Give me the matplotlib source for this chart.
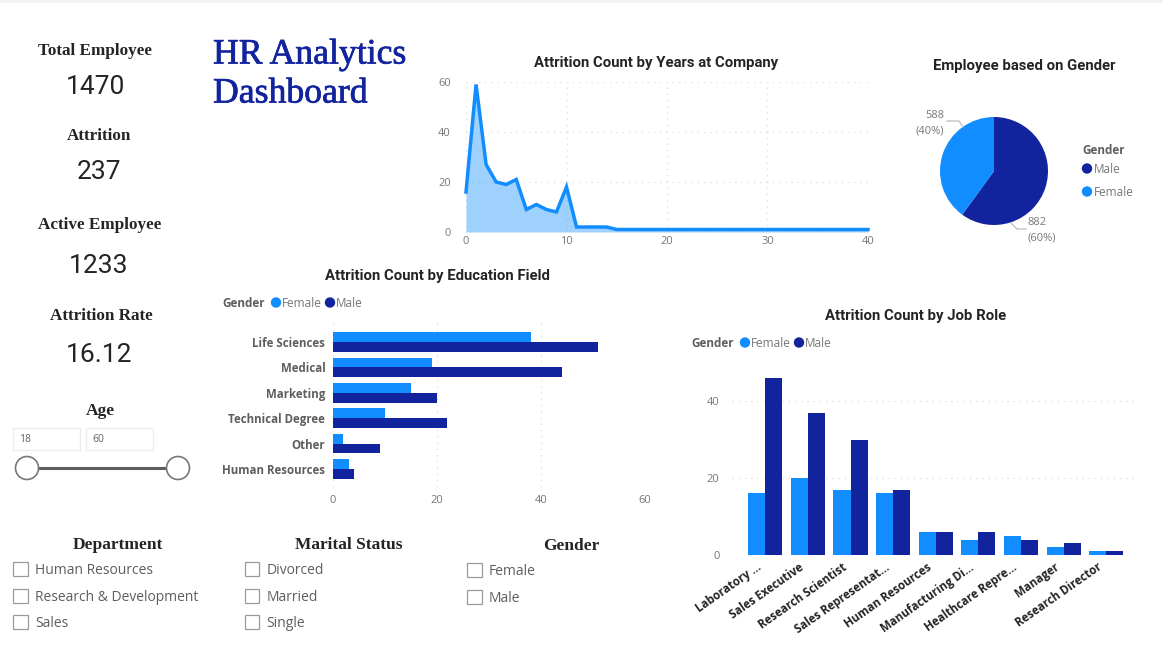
import matplotlib
matplotlib.use('Agg')
import numpy as np
import matplotlib.pyplot as plt
import matplotlib.patheffects as pe
from matplotlib.patches import Circle, Rectangle
from matplotlib.transforms import ScaledTranslation

W, H = 1163, 649
LIGHT = '#118DFF'
DARK = '#12239E'
GREY = '#605E5C'
TICK = '#777777'
TITLE = '#252423'
SERIF = 'Liberation Serif'

years = [0, 1, 2, 3, 4, 5, 6, 7, 8, 9, 10, 11, 12, 13, 14, 15, 16, 17, 18, 19, 20,
         21, 22, 23, 24, 25, 26, 27, 28, 29, 30, 31, 32, 33, 34, 35, 36, 37, 38, 39, 40]
attrition_years = [16, 59, 27, 20, 19, 21, 9, 11, 9, 8, 18, 2, 2, 2, 2, 1, 1, 1, 1, 1, 1,
                   1, 1, 1, 1, 1, 1, 1, 1, 1, 1, 1, 1, 1, 1, 1, 1, 1, 1, 1, 1]

gender_labels = ['Male', 'Female']
gender_counts = [882, 588]

edu_fields = ['Life Sciences', 'Medical', 'Marketing', 'Technical Degree', 'Other', 'Human Resources']
edu_female = [38, 19, 15, 10, 2, 3]
edu_male = [51, 44, 20, 22, 9, 4]

job_roles = ['Laboratory ...', 'Sales Executive', 'Research Scientist', 'Sales Representat...',
             'Human Resources', 'Manufacturing Di...', 'Healthcare Repre...', 'Manager', 'Research Director']
job_female = [16, 20, 17, 16, 6, 4, 5, 2, 1]
job_male = [46, 37, 30, 17, 6, 6, 4, 3, 1]

kpi_names = ['Total Employee', 'Attrition', 'Active Employee', 'Attrition Rate']
kpi_values = ['1470', '237', '1233', '16.12']

departments = ['Human Resources', 'Research & Development', 'Sales']
marital = ['Divorced', 'Married', 'Single']
genders = ['Female', 'Male']

plt.rcParams['font.family'] = ['Open Sans', 'DejaVu Sans']
fig = plt.figure(figsize=(W / 100, H / 100), dpi=100, facecolor='white')


def px_axes(left, top, right, bottom):
    return fig.add_axes([left / W, 1 - bottom / H, (right - left) / W, (bottom - top) / H])


def clean(ax):
    for s in ax.spines.values():
        s.set_visible(False)
    ax.set_facecolor('none')
    ax.tick_params(length=0, labelcolor=TICK, labelsize=8)
    ax.set_axisbelow(True)


# overlay in pixel coordinates for the text and the slicers
ov = px_axes(0, 0, W, H)
ov.set_xlim(0, W)
ov.set_ylim(H, 0)
ov.axis('off')
ov.set_zorder(5)
ov.add_patch(Rectangle((0, 0), W, 2.5, fc='#F3F3F3', ec='none'))

# area chart
ax = px_axes(466, 82, 868, 232)
clean(ax)
ax.fill_between(years, attrition_years, color=LIGHT, alpha=0.4, lw=0)
ax.plot(years, attrition_years, color=LIGHT, lw=2.5, solid_joinstyle='miter', clip_on=False)
ax.set_xlim(0, 40)
ax.set_ylim(0, 60)
ax.set_xticks([0, 10, 20, 30, 40])
ax.set_yticks([0, 20, 40, 60])
ax.grid(color='#DDDDDD', ls=(0, (1, 4)), lw=0.9)
ax.tick_params(axis='x', pad=3)
ax.tick_params(axis='y', pad=11)

# pie
ax = px_axes(940, 117, 1048, 225)
ax.pie(gender_counts, colors=[DARK, LIGHT], startangle=90, counterclock=False, radius=1)
ax.set_xlim(-1, 1)
ax.set_ylim(-1, 1)
ov.plot([947, 959, 963], [121, 121, 127], color='#BDBDBD', lw=0.9)
ov.plot([1011, 1017, 1026], [223, 229, 229], color='#BDBDBD', lw=0.9)
ov.text(944, 116, f'{gender_counts[1]}', ha='right', va='center', fontsize=8, color=TICK)
ov.text(944, 131, f'({gender_counts[1] / sum(gender_counts):.0%})', ha='right', va='center', fontsize=8, color=TICK)
ov.text(1028, 222.5, f'{gender_counts[0]}', ha='left', va='center', fontsize=8, color=TICK)
ov.text(1028, 237.5, f'({gender_counts[0] / sum(gender_counts):.0%})', ha='left', va='center', fontsize=8, color=TICK)
ov.text(1082, 150, 'Gender', ha='left', va='center', fontsize=8.5, color=GREY, fontweight='bold')
ov.add_patch(Circle((1087, 168.5), 4.5, color=DARK))
ov.text(1094, 169.5, gender_labels[0], ha='left', va='center', fontsize=8.5, color=TICK)
ov.add_patch(Circle((1087, 191.5), 4.5, color=LIGHT))
ov.text(1094, 192.5, gender_labels[1], ha='left', va='center', fontsize=8.5, color=TICK)

# education bars
ax = px_axes(333, 323, 645, 487)
clean(ax)
pos = np.arange(len(edu_fields))
ax.barh(pos - 0.195, edu_female, 0.39, color=LIGHT)
ax.barh(pos + 0.195, edu_male, 0.39, color=DARK)
ax.set_xlim(0, 60)
ax.set_ylim(5.71, -0.75)
ax.set_xticks([0, 20, 40, 60])
ax.set_yticks(pos)
ax.set_yticklabels(edu_fields, fontsize=8.3, fontweight='bold', color=GREY)
ax.grid(axis='x', color='#DDDDDD', ls=(0, (1, 4)), lw=0.9)
ax.tick_params(axis='y', pad=5.5)
ax.tick_params(axis='x', pad=6)

# job role bars
ax = px_axes(732, 378, 1137, 555)
clean(ax)
pos = np.arange(len(job_roles))
ax.bar(pos - 0.2, job_female, 0.4, color=LIGHT)
ax.bar(pos + 0.2, job_male, 0.4, color=DARK)
ax.set_xlim(-0.78, 8.72)
ax.set_ylim(0, 46)
ax.set_yticks([0, 20, 40])
ax.set_xticks(pos)
ax.set_xticklabels(job_roles, rotation=35, ha='right', rotation_mode='anchor',
                   fontsize=8.3, fontweight='bold', color=TITLE)
ax.grid(axis='y', color='#DDDDDD', ls=(0, (1, 4)), lw=0.9)
ax.tick_params(axis='y', pad=9)
ax.tick_params(axis='x', pad=4)
# tick_params resets the label transform, so the shift comes after it
shift = ScaledTranslation(-9 / 100, 0, fig.dpi_scale_trans)
for lab in ax.get_xticklabels():
    lab.set_transform(lab.get_transform() + shift)

# chart titles
title_kw = dict(ha='center', va='center', fontsize=10.7, fontfamily='Roboto', fontweight='bold', color=TITLE)
ov.text(656, 62.5, 'Attrition Count by Years at Company', **title_kw)
ov.text(1024.5, 66, 'Employee based on Gender', **title_kw)
ov.text(437, 276, 'Attrition Count by Education Field', **title_kw)
ov.text(916, 316, 'Attrition Count by Job Role', **title_kw)


def gender_legend(x, y):
    ov.text(x, y, 'Gender', ha='left', va='center', fontsize=8.5, color=GREY, fontweight='bold')
    ov.add_patch(Circle((x + 54, y - 1), 4.5, color=LIGHT))
    ov.text(x + 60, y, 'Female', ha='left', va='center', fontsize=8.5, color=TICK)
    ov.add_patch(Circle((x + 108, y - 1), 4.5, color=DARK))
    ov.text(x + 114, y, 'Male', ha='left', va='center', fontsize=8.5, color=TICK)


gender_legend(222, 303.5)
gender_legend(691, 343.5)

# heading
heavy = [pe.withStroke(linewidth=0.5, foreground=DARK)]
ov.text(213, 55, 'HR Analytics', ha='left', va='center', fontsize=25.7, fontfamily=SERIF,
        color=DARK, path_effects=heavy)
ov.text(213, 94, 'Dashboard', ha='left', va='center', fontsize=25.7, fontfamily=SERIF,
        color=DARK, path_effects=heavy)

# cards
name_x = [95, 99.5, 100, 101]
value_x = [95, 98.5, 99, 99.5]
for name, val, nx, vx, y1, y2 in zip(kpi_names, kpi_values, name_x, value_x,
                                     [51, 136, 225, 316], [87, 172, 266, 355]):
    ov.text(nx, y1, name, ha='center', va='center', fontsize=12.3, fontfamily=SERIF,
            fontweight='bold', color=TITLE)
    ov.text(vx, y2, val, ha='center', va='center', fontsize=19, fontfamily='Roboto', color=TITLE)

# age slider
ov.text(100, 411, 'Age', ha='center', va='center', fontsize=12.5, fontfamily=SERIF, fontweight='bold', color=TITLE)
for x0, txt in [(13, '18'), (86, '60')]:
    ov.add_patch(Rectangle((x0, 428), 67, 22, fc='white', ec='#EDEDED', lw=1))
    ov.text(x0 + 6, 439.5, txt, ha='left', va='center', fontsize=7.5, color=GREY)
ov.plot([27, 178], [468, 468], color=GREY, lw=2.2, zorder=2)
for cx in [27, 178]:
    ov.add_patch(Circle((cx, 468), 11.5, fc='white', ec=TICK, lw=1.2, zorder=3))


def slicer(title, title_x, title_y, items, box_x, ys):
    ov.text(title_x, title_y, title, ha='center', va='center', fontsize=12.5, fontfamily=SERIF,
            fontweight='bold', color=TITLE)
    for item, y in zip(items, ys):
        ov.add_patch(Rectangle((box_x, y - 7.5), 14.5, 14.5, fc='white', ec='#9A9A9A', lw=0.9))
        ov.text(box_x + 22, y + 1.5, item, ha='left', va='center', fontsize=10, color=GREY)


slicer('Department', 117.5, 545, departments, 13, [569, 596, 622])
slicer('Marital Status', 348.5, 545, marital, 244.5, [569, 596, 622])
slicer('Gender', 571, 546, genders, 467, [570, 597])

fig.savefig('out.png', dpi=100)
